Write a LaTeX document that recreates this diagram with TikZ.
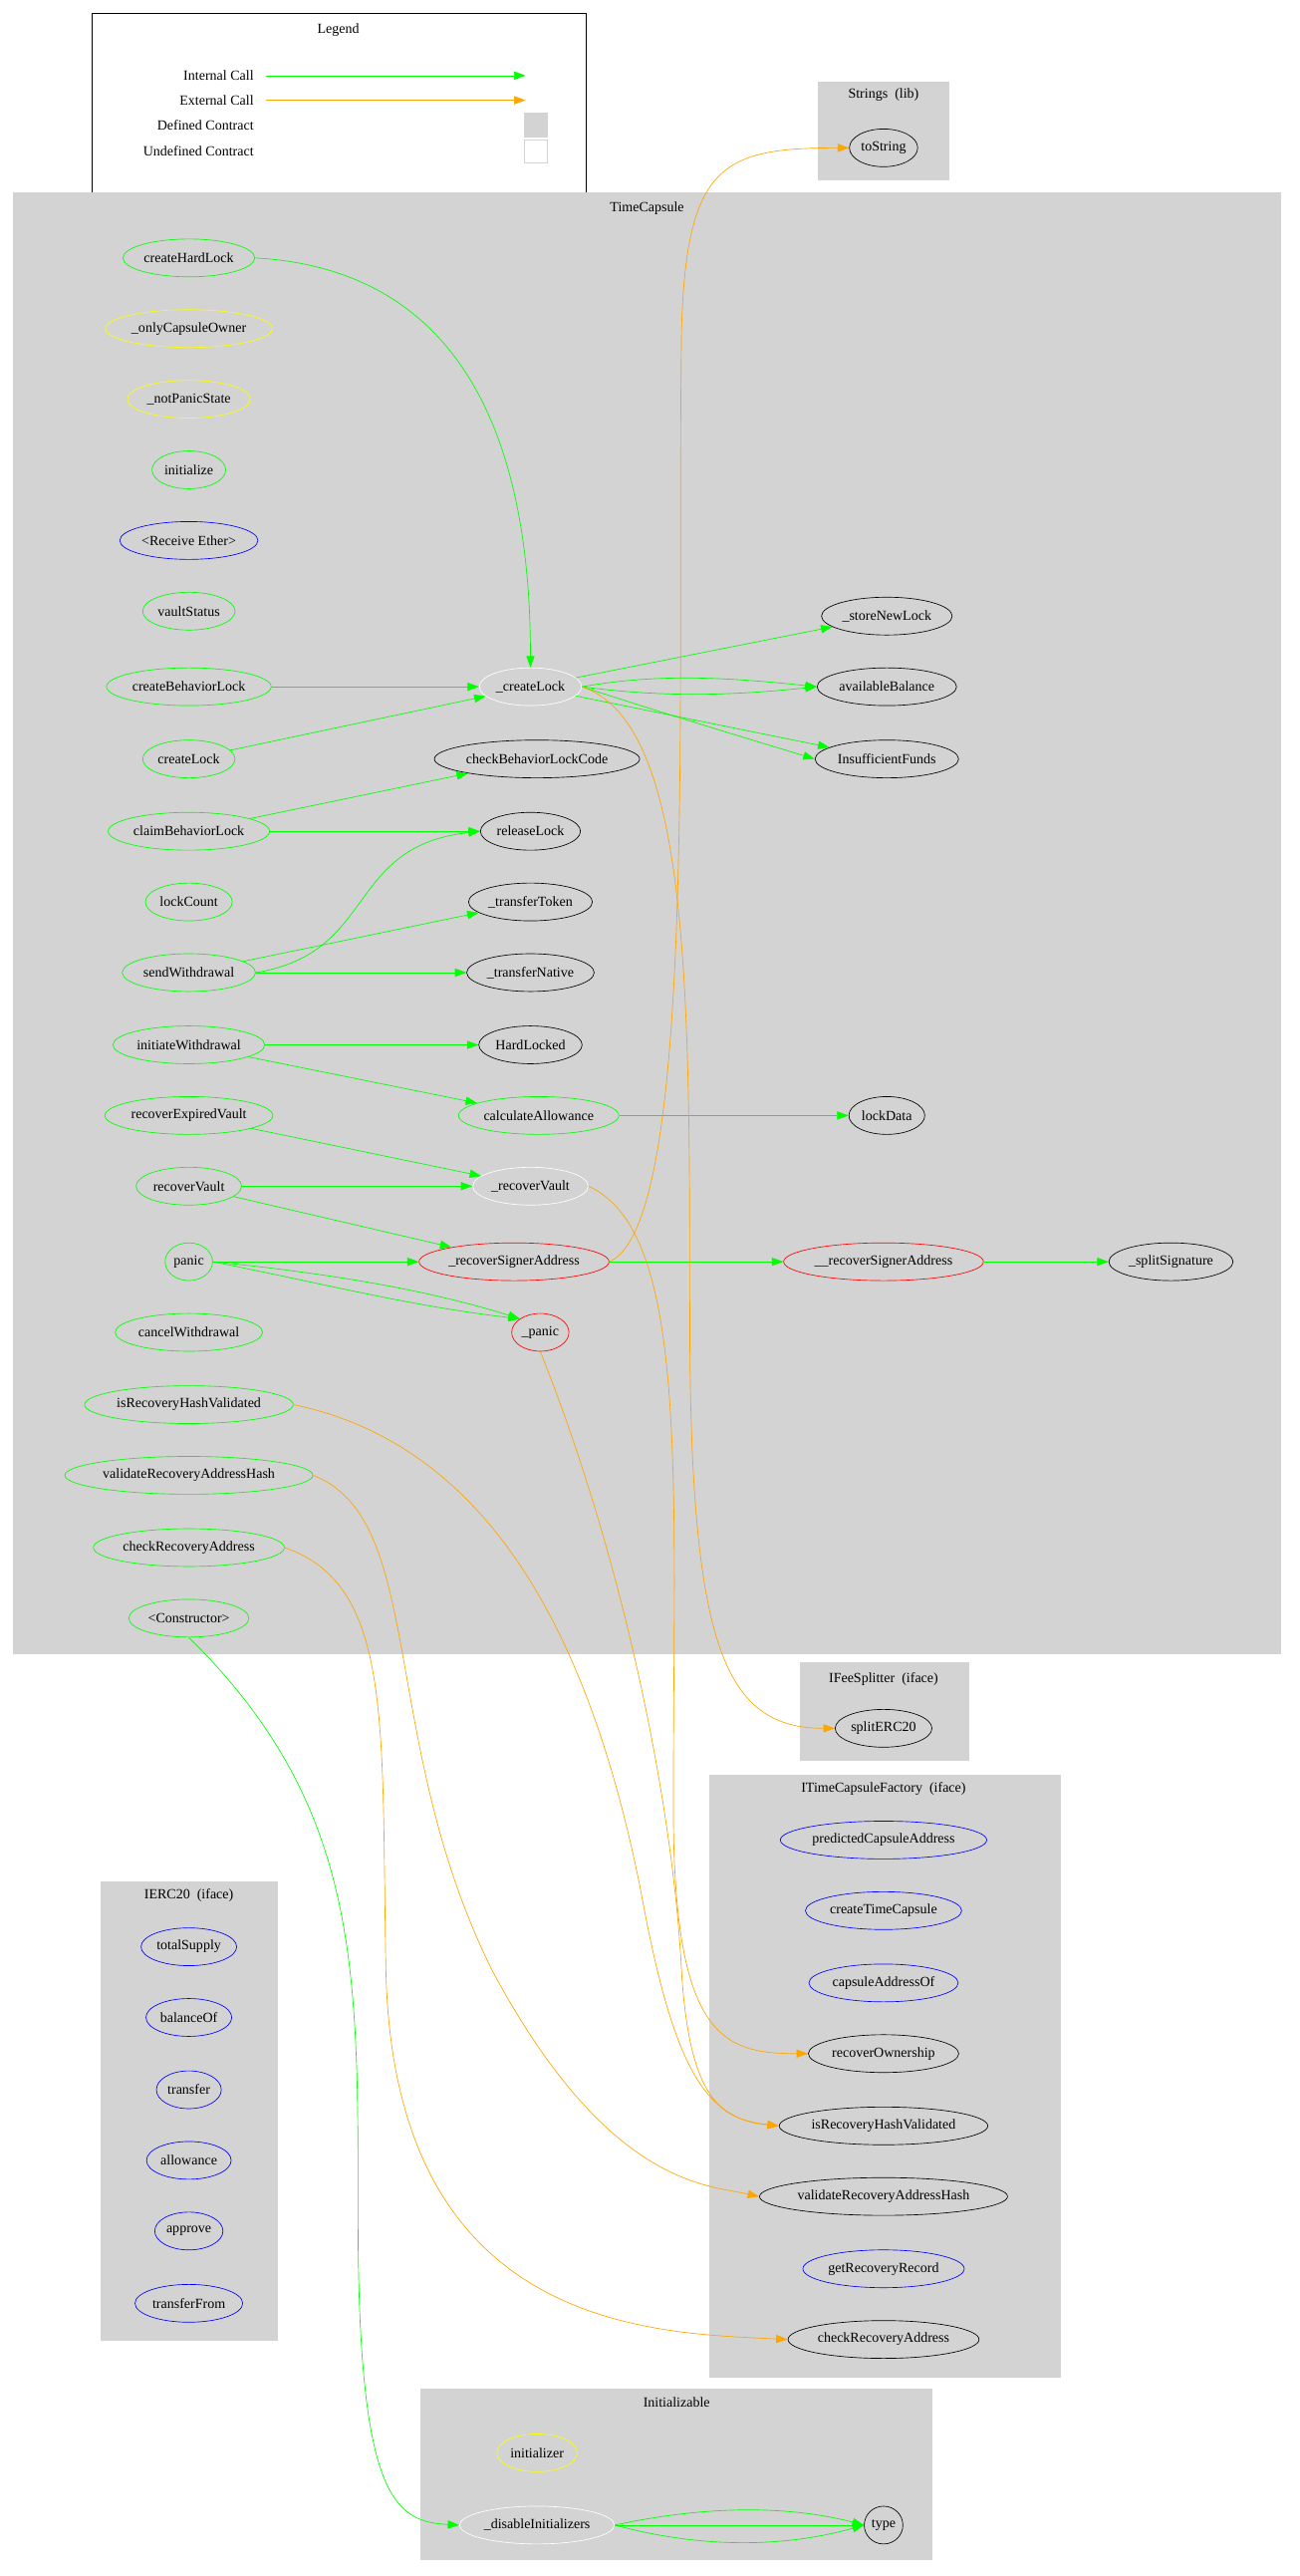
\documentclass[tikz,border=0pt]{standalone}
\usepackage{fontspec}
\setmainfont{Liberation Serif}
\usetikzlibrary{shapes.geometric,arrows.meta}
\definecolor{clg}{RGB}{211,211,211}
\definecolor{ogreen}{RGB}{0,255,0}
\definecolor{oorange}{RGB}{255,165,0}
\definecolor{oyellow}{RGB}{255,255,0}
\tikzset{
 fn/.style={ellipse,draw=#1,inner xsep=1pt,inner ysep=0pt,minimum height=23pt,font=\fontsize{8.5}{9}\selectfont},
 fn/.default=black,
 clu/.style={fill=clg,draw=none},
 clab/.style={font=\fontsize{8.5}{9}\selectfont},
 ic/.style={draw=ogreen,-{Triangle[length=7pt,width=5pt]}},
 ec/.style={draw=oorange,-{Triangle[length=7pt,width=5pt]}},
}
\begin{document}
\begin{tikzpicture}[x=1pt,y=-1pt]
\useasboundingbox (0,0) rectangle (791,1568);
% legend
\draw[fill=white] (56,8) rectangle (357,118);
\node[clab] (lg) at (206,18) {Legend};
\node[clab,anchor=east] (l1) at (158,46) {Internal Call};
\node[clab,anchor=east] (l2) at (158,61) {External Call};
\node[clab,anchor=east] (l3) at (158,76) {Defined Contract};
\node[clab,anchor=east] (l4) at (158,92) {Undefined Contract};
\coordinate (a1) at (162,46); \coordinate (b1) at (320,46);
\coordinate (a2) at (162,61); \coordinate (b2) at (320,61);
\draw[ic] (a1) -- (b1);
\draw[ec] (a2) -- (b2);
\draw[clg,fill=clg] (319,69) rectangle (333,83);
\draw[clg,fill=white] (319,85) rectangle (333,99);
% clusters
\fill[clu] (498,50) rectangle (578,110);
\fill[clu] (8,117) rectangle (780,1007);
\fill[clu] (487,1012) rectangle (590,1072);
\fill[clu] (432,1080) rectangle (646,1447);
\fill[clu] (61,1145) rectangle (169,1425);
\fill[clu] (256,1454) rectangle (568,1558);
\node[clab] at (538,58) {Strings\ \ (lib)};
\node[clab] at (394,127) {TimeCapsule};
\node[clab] at (538,1022) {IFeeSplitter\ \ (iface)};
\node[clab] at (538,1089) {ITimeCapsuleFactory\ \ (iface)};
\node[clab] at (115,1154) {IERC20\ \ (iface)};
\node[clab] at (412,1462) {Initializable};
% nodes
\node[fn] (toString) at (538,90) {toString};
\node[fn=ogreen] (createHardLock) at (115,157) {createHardLock};
\node[fn=oyellow] (onlyOwner) at (115,200) {\_onlyCapsuleOwner};
\node[fn=oyellow] (notPanic) at (115,243) {\_notPanicState};
\node[fn=ogreen] (initialize) at (115,286) {initialize};
\node[fn=blue] (receive) at (115,329) {<Receive Ether>};
\node[fn=ogreen] (vaultStatus) at (115,372) {vaultStatus};
\node[fn=ogreen] (createBehaviorLock) at (115,418) {createBehaviorLock};
\node[fn=ogreen] (createLock) at (115,462) {createLock};
\node[fn=ogreen] (claimBehaviorLock) at (115,506) {claimBehaviorLock};
\node[fn=ogreen] (lockCount) at (115,549) {lockCount};
\node[fn=ogreen] (sendWithdrawal) at (115,592) {sendWithdrawal};
\node[fn=ogreen] (initiateWithdrawal) at (115,636) {initiateWithdrawal};
\node[fn=ogreen] (recoverExpiredVault) at (115,679) {recoverExpiredVault};
\node[fn=ogreen] (recoverVault) at (115,722) {recoverVault};
\node[fn=ogreen] (panic) at (115,768) {panic};
\node[fn=ogreen] (cancelWithdrawal) at (115,811) {cancelWithdrawal};
\node[fn=ogreen] (isRHV) at (115,855) {isRecoveryHashValidated};
\node[fn=ogreen] (vRAH) at (115,898) {validateRecoveryAddressHash};
\node[fn=ogreen] (cRA) at (115,942) {checkRecoveryAddress};
\node[fn=ogreen] (ctor) at (115,985) {<Constructor>};
\node[fn=white] (cLock) at (323,418) {\_createLock};
\node[fn] (checkBLC) at (327,462) {checkBehaviorLockCode};
\node[fn] (releaseLock) at (323,506) {releaseLock};
\node[fn] (transferToken) at (323,549) {\_transferToken};
\node[fn] (transferNative) at (323,592) {\_transferNative};
\node[fn] (hardLocked) at (323,636) {HardLocked};
\node[fn=ogreen] (calcAllow) at (328,679) {calculateAllowance};
\node[fn=white] (rVault) at (323,722) {\_recoverVault};
\node[fn=red] (rSigner) at (313,768) {\_recoverSignerAddress};
\node[fn=red] (pnc) at (329,811) {\_panic};
\node[fn] (storeNewLock) at (540,375) {\_storeNewLock};
\node[fn] (availBal) at (540,418) {availableBalance};
\node[fn] (insuff) at (540,462) {InsufficientFunds};
\node[fn] (lockData) at (540,679) {lockData};
\node[fn=red] (rSigner2) at (538,768) {\_\_recoverSignerAddress};
\node[fn] (splitSig) at (713,768) {\_splitSignature};
\node[fn] (splitERC20) at (538,1052) {splitERC20};
\node[fn=blue] (pred) at (538,1120) {predictedCapsuleAddress};
\node[fn=blue] (createTC) at (538,1163) {createTimeCapsule};
\node[fn=blue] (capOf) at (538,1207) {capsuleAddressOf};
\node[fn] (recOwn) at (538,1250) {recoverOwnership};
\node[fn] (fIsRHV) at (538,1294) {isRecoveryHashValidated};
\node[fn] (fVRAH) at (538,1337) {validateRecoveryAddressHash};
\node[fn=blue] (getRR) at (538,1381) {getRecoveryRecord};
\node[fn] (fCRA) at (538,1424) {checkRecoveryAddress};
\node[fn=blue] (totalSupply) at (115,1185) {totalSupply};
\node[fn=blue] (balanceOf) at (115,1228) {balanceOf};
\node[fn=blue] (transfer) at (115,1272) {transfer};
\node[fn=blue] (allowance) at (115,1315) {allowance};
\node[fn=blue] (approve) at (115,1358) {approve};
\node[fn=blue] (transferFrom) at (115,1402) {transferFrom};
\node[fn=oyellow] (initializer) at (327,1493) {initializer};
\node[fn=white] (disInit) at (327,1537) {\_disableInitializers};
\node[fn] (type) at (538,1537) {type};
% internal calls
\draw[ic] (createHardLock.east) .. controls (300,165) and (323,300) .. (cLock.north);
\draw[ic] (createBehaviorLock) -- (cLock);
\draw[ic] (createLock) -- (cLock);
\draw[ic] (cLock) -- (storeNewLock);
\draw[ic] (cLock.east) .. controls (400,410) and (440,412) .. (availBal.west);
\draw[ic] (cLock.east) .. controls (400,424) and (440,424) .. (availBal.west);
\draw[ic] (cLock) -- (insuff);
\draw[ic] (cLock.east) .. controls (410,436) and (450,448) .. (insuff.west);
\draw[ic] (claimBehaviorLock) -- (checkBLC);
\draw[ic] (claimBehaviorLock) -- (releaseLock);
\draw[ic] (sendWithdrawal.east) .. controls (230,580) and (210,515) .. (releaseLock.west);
\draw[ic] (sendWithdrawal) -- (transferToken);
\draw[ic] (sendWithdrawal) -- (transferNative);
\draw[ic] (initiateWithdrawal) -- (hardLocked);
\draw[ic] (initiateWithdrawal) -- (calcAllow);
\draw[ic] (calcAllow) -- (lockData);
\draw[ic] (recoverExpiredVault) -- (rVault);
\draw[ic] (recoverVault) -- (rVault);
\draw[ic] (recoverVault) -- (rSigner);
\draw[ic] (panic) -- (rSigner);
\draw[ic] (panic.east) .. controls (200,775) and (260,785) .. (pnc.north west);
\draw[ic] (panic.east) .. controls (200,782) and (250,795) .. (pnc.north west);
\draw[ic] (rSigner) -- (rSigner2);
\draw[ic] (rSigner2) -- (splitSig);
\draw[ic] (ctor.south) .. controls (220,1100) and (218,1200) .. (218,1350) .. controls (218,1520) and (240,1535) .. (disInit.west);
\draw[ic] (disInit.east) .. controls (430,1525) and (480,1525) .. (type.west);
\draw[ic] (disInit.east) .. controls (430,1537) and (480,1537) .. (type.west);
\draw[ic] (disInit.east) .. controls (430,1552) and (480,1550) .. (type.west);
% external calls
\draw[ec] (rSigner.east) .. controls (425,745) and (412,420) .. (415,200) .. controls (418,100) and (440,90) .. (toString.west);
\draw[ec] (cLock.east) .. controls (420,440) and (420,600) .. (420,800) .. controls (420,1000) and (440,1052) .. (splitERC20.west);
\draw[ec] (rVault.east) .. controls (420,750) and (410,900) .. (410,1100) .. controls (410,1240) and (440,1250) .. (recOwn.west);
\draw[ec] (pnc.south) .. controls (380,950) and (410,1100) .. (415,1200) .. controls (420,1280) and (440,1290) .. (fIsRHV.west);
\draw[ec] (isRHV.east) .. controls (300,880) and (360,1000) .. (390,1150) .. controls (410,1260) and (430,1290) .. (fIsRHV.west);
\draw[ec] (vRAH.east) .. controls (260,925) and (230,1060) .. (300,1200) .. controls (370,1330) and (430,1330) .. (fVRAH.west);
\draw[ec] (cRA.east) .. controls (240,965) and (232,1050) .. (235,1200) .. controls (240,1420) and (400,1420) .. (fCRA.west);
\end{tikzpicture}
\end{document}
